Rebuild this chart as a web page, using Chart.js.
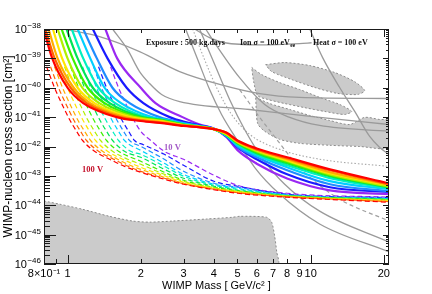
<!DOCTYPE html>
<html><head><meta charset="utf-8">
<script src="https://cdn.jsdelivr.net/npm/chart.js@4.4.0/dist/chart.umd.min.js"></script>
<style>html,body{margin:0;padding:0;background:#fff;}</style>
</head><body>
<canvas id="c" width="432" height="294"></canvas>
<script>
// ---------------- axis ticks ----------------
const X_TICKS = [0.8, 1, 2, 3, 4, 5, 6, 7, 8, 9, 10, 20];
const X_TICK_LABELS = ['8×10⁻¹', '1', '2', '3', '4', '5', '6', '7', '8', '9', '10', '20'];
const X_MAJOR_MARKS = [1, 10, 20];
const X_MINOR_MARKS = [0.9, 2, 3, 4, 5, 6, 7, 8, 9];
const Y_TICKS = [1e-46, 1e-45, 1e-44, 1e-43, 1e-42, 1e-41, 1e-40, 1e-39, 1e-38];
const Y_TICK_EXPONENTS = ['−46', '−45', '−44', '−43', '−42', '−41', '−40', '−39', '−38'];

// ---------------- solid coloured limits (violet = 10 V ... red = 100 V) ----------------
const SOLID_MASS_RED = [0.80, 0.865, 1.00, 1.16, 1.59, 2, 2.5, 3, 3.5, 4, 4.5, 5, 6, 8, 12, 21];
const SOLID_SIG_RED  = [9e-39, 1e-39, 1e-40, 3e-41, 1e-41, 7.4e-42, 6.1e-42, 5.0e-42, 4.5e-42, 3.9e-42, 3.0e-42, 1.6e-42, 8.6e-43, 4.3e-43, 1.67e-43, 5.6e-44];
const SOLID_MASS_ORANGERED = [0.81, 0.885, 1.03, 1.20, 1.65, 2, 2.5, 3, 3.5, 4, 4.5, 5, 6, 8, 12, 21];
const SOLID_SIG_ORANGERED  = [1e-38, 1e-39, 1e-40, 3e-41, 1e-41, 7.7e-42, 6.3e-42, 5.1e-42, 4.55e-42, 3.9e-42, 2.9e-42, 1.55e-42, 8.0e-43, 4.0e-43, 1.55e-43, 5.2e-44];
const SOLID_MASS_ORANGE = [0.835, 0.91, 1.06, 1.24, 1.72, 2, 2.5, 3, 3.5, 4, 4.5, 5, 6, 8, 12, 21];
const SOLID_SIG_ORANGE  = [1e-38, 1e-39, 1e-40, 3e-41, 1e-41, 8.1e-42, 6.6e-42, 5.2e-42, 4.6e-42, 3.9e-42, 2.8e-42, 1.48e-42, 7.7e-43, 3.7e-43, 1.33e-43, 5.0e-44];
const SOLID_MASS_YELLOW = [0.87, 0.95, 1.10, 1.29, 1.80, 2, 2.5, 3, 3.5, 4, 4.5, 5, 6, 8, 12, 21];
const SOLID_SIG_YELLOW  = [1e-38, 1e-39, 1e-40, 3e-41, 1e-41, 8.6e-42, 6.9e-42, 5.3e-42, 4.65e-42, 3.9e-42, 2.7e-42, 1.44e-42, 7.4e-43, 3.4e-43, 1.23e-43, 4.8e-44];
const SOLID_MASS_LIME = [0.91, 1.00, 1.15, 1.35, 1.89, 2.05, 2.5, 3, 3.5, 4, 4.5, 5, 6, 8, 12, 21];
const SOLID_SIG_LIME  = [1e-38, 1e-39, 1e-40, 3e-41, 1e-41, 9.0e-42, 7.2e-42, 5.4e-42, 4.7e-42, 3.9e-42, 2.6e-42, 1.38e-42, 6.9e-43, 3.2e-43, 1.13e-43, 4.4e-44];
const SOLID_MASS_GREEN = [0.945, 1.05, 1.21, 1.42, 1.96, 2.5, 3, 3.5, 4, 4.5, 5, 6, 8, 12, 21];
const SOLID_SIG_GREEN  = [1e-38, 1e-39, 1e-40, 3e-41, 1e-41, 7.5e-42, 5.5e-42, 4.75e-42, 3.9e-42, 2.55e-42, 1.32e-42, 6.4e-43, 2.9e-43, 1.05e-43, 4.3e-44];
const SOLID_MASS_EMERALD = [0.99, 1.10, 1.27, 1.49, 2.03, 2.5, 3, 3.5, 4, 4.5, 5, 6, 8, 12, 21];
const SOLID_SIG_EMERALD  = [1e-38, 1e-39, 1e-40, 3e-41, 1e-41, 7.8e-42, 5.6e-42, 4.8e-42, 3.9e-42, 2.5e-42, 1.28e-42, 5.9e-43, 2.7e-43, 9.7e-44, 4.1e-44];
const SOLID_MASS_SPRING = [1.04, 1.16, 1.34, 1.57, 2.11, 2.5, 3, 3.5, 4, 4.5, 5, 6, 8, 12, 21];
const SOLID_SIG_SPRING  = [1e-38, 1e-39, 1e-40, 3e-41, 1e-41, 8.0e-42, 5.8e-42, 4.85e-42, 3.9e-42, 2.4e-42, 1.18e-42, 5.4e-43, 2.3e-43, 8.4e-44, 3.8e-44];
const SOLID_MASS_CYAN = [1.10, 1.24, 1.42, 1.66, 2.22, 2.5, 3, 3.5, 4, 4.5, 5, 6, 8, 12, 21];
const SOLID_SIG_CYAN  = [1e-38, 1e-39, 1e-40, 3e-41, 1e-41, 8.3e-42, 6.0e-42, 4.9e-42, 3.9e-42, 2.35e-42, 1.1e-42, 5.0e-43, 1.96e-43, 6.6e-44, 3.5e-44];
const SOLID_MASS_AZURE = [1.16, 1.32, 1.53, 1.80, 2.39, 3, 3.5, 4, 4.5, 5, 6, 8, 12, 21];
const SOLID_SIG_AZURE  = [1e-38, 1e-39, 1e-40, 3e-41, 1e-41, 6.3e-42, 5.0e-42, 3.95e-42, 2.3e-42, 1.0e-42, 4.3e-43, 1.55e-43, 5.2e-44, 3.0e-44];
const SOLID_MASS_BLUE = [1.27, 1.46, 1.75, 2.05, 2.63, 3, 3.5, 4, 4.5, 5, 6, 8, 12, 21];
const SOLID_SIG_BLUE  = [1e-38, 1e-39, 1e-40, 3e-41, 1e-41, 7.0e-42, 5.3e-42, 4.0e-42, 2.2e-42, 9.3e-43, 3.7e-43, 1.13e-43, 4.1e-44, 2.8e-44];
const SOLID_MASS_VIOLET = [1.43, 1.60, 2.00, 2.30, 2.97, 3.5, 4, 4.5, 5, 6, 8, 12, 21];
const SOLID_SIG_VIOLET  = [1e-38, 1e-39, 1e-40, 3e-41, 1e-41, 5.6e-42, 4.1e-42, 2.1e-42, 7.5e-43, 2.6e-43, 8.2e-44, 3.2e-44, 2.4e-44];

// ---------------- dashed coloured limits ----------------
const DASH_MASS_RED = [0.820, 0.884, 0.954, 1.019, 1.089, 1.153, 1.291, 1.488, 1.716, 2, 2.5, 3, 4, 5, 8, 21];
const DASH_SIG_RED  = [5.2e-40, 1.0e-40, 2.5e-41, 8.3e-42, 3.3e-42, 1.6e-42, 6.9e-43, 3.7e-43, 2.1e-43, 1.33e-43, 7.67e-44, 5.19e-44, 3.37e-44, 2.56e-44, 1.88e-44, 1.27e-44];
const DASH_MASS_ORANGERED = [0.851, 0.918, 0.991, 1.058, 1.131, 1.197, 1.341, 1.546, 1.783, 2, 2.5, 3, 4, 5, 8, 21];
const DASH_SIG_ORANGERED  = [5.2e-40, 1.0e-40, 2.5e-41, 8.3e-42, 3.3e-42, 1.6e-42, 6.9e-43, 3.7e-43, 2.1e-43, 1.43e-43, 8.3e-44, 5.4e-44, 3.51e-44, 2.67e-44, 1.95e-44, 1.32e-44];
const DASH_MASS_ORANGE = [0.884, 0.954, 1.029, 1.099, 1.175, 1.244, 1.393, 1.606, 1.851, 2, 2.5, 3, 4, 5, 8, 21];
const DASH_SIG_ORANGE  = [5.2e-40, 1.0e-40, 2.5e-41, 8.3e-42, 3.3e-42, 1.6e-42, 6.9e-43, 3.7e-43, 2.1e-43, 1.67e-43, 8.96e-44, 5.61e-44, 3.65e-44, 2.77e-44, 1.95e-44, 1.37e-44];
const DASH_MASS_YELLOW = [0.927, 1.0, 1.079, 1.153, 1.232, 1.304, 1.461, 1.684, 2, 2.5, 3, 4, 5, 8, 21];
const DASH_SIG_YELLOW  = [5.2e-40, 1.0e-40, 2.5e-41, 8.3e-42, 3.3e-42, 1.6e-42, 6.9e-43, 3.7e-43, 1.96e-43, 1.01e-43, 6.07e-44, 3.79e-44, 2.88e-44, 2.03e-44, 1.43e-44];
const DASH_MASS_LIME = [0.972, 1.048, 1.131, 1.208, 1.291, 1.367, 1.532, 1.766, 2, 2.5, 3, 4, 5, 8, 21];
const DASH_SIG_LIME  = [5.2e-40, 1.0e-40, 2.5e-41, 8.3e-42, 3.3e-42, 1.6e-42, 6.9e-43, 3.7e-43, 2.48e-43, 1.13e-43, 6.56e-44, 3.94e-44, 3.0e-44, 2.03e-44, 1.49e-44];
const DASH_MASS_GREEN = [1.029, 1.110, 1.197, 1.279, 1.367, 1.447, 1.621, 2, 2.5, 3, 4, 5, 8, 21];
const DASH_SIG_GREEN  = [5.2e-40, 1.0e-40, 2.5e-41, 8.3e-42, 3.3e-42, 1.6e-42, 6.9e-43, 3.13e-43, 1.33e-43, 7.1e-44, 4.1e-44, 3.12e-44, 2.11e-44, 1.55e-44];
const DASH_MASS_EMERALD = [1.089, 1.175, 1.267, 1.354, 1.447, 1.532, 1.716, 2, 2.5, 3, 4, 5, 8, 21];
const DASH_SIG_EMERALD  = [5.2e-40, 1.0e-40, 2.5e-41, 8.3e-42, 3.3e-42, 1.6e-42, 6.9e-43, 4.28e-43, 1.67e-43, 8.3e-44, 4.44e-44, 3.24e-44, 2.11e-44, 1.61e-44];
const DASH_MASS_SPRING = [1.153, 1.244, 1.341, 1.433, 1.532, 1.621, 1.817, 2, 2.5, 3, 4, 5, 8, 21];
const DASH_SIG_SPRING  = [5.2e-40, 1.0e-40, 2.5e-41, 8.3e-42, 3.3e-42, 1.6e-42, 6.9e-43, 5.41e-43, 2.12e-43, 9.7e-44, 4.8e-44, 3.51e-44, 2.19e-44, 1.61e-44];
const DASH_MASS_CYAN = [1.220, 1.316, 1.420, 1.517, 1.621, 1.716, 2, 2.5, 3, 4, 5, 8, 21];
const DASH_SIG_CYAN  = [5.2e-40, 1.0e-40, 2.5e-41, 8.3e-42, 3.3e-42, 1.6e-42, 7.4e-43, 2.68e-43, 1.13e-43, 5.19e-44, 3.79e-44, 2.19e-44, 1.67e-44];
const DASH_MASS_AZURE = [1.279, 1.380, 1.488, 1.591, 1.700, 1.800, 2, 2.5, 3, 4, 5, 8, 21];
const DASH_SIG_AZURE  = [5.2e-40, 1.0e-40, 2.5e-41, 8.3e-42, 3.3e-42, 1.6e-42, 1.01e-42, 3.66e-43, 1.43e-43, 5.61e-44, 4.1e-44, 2.28e-44, 1.74e-44];
const DASH_MASS_BLUE = [1.341, 1.447, 1.561, 1.668, 1.783, 1.886, 2.05, 2.5, 3, 4, 5, 8, 21];
const DASH_SIG_BLUE  = [5.2e-40, 1.0e-40, 2.5e-41, 8.3e-42, 3.3e-42, 1.6e-42, 1.15e-42, 5.41e-43, 2.29e-43, 6.56e-44, 4.44e-44, 2.37e-44, 1.81e-44];
const DASH_MASS_VIOLET = [1.503, 1.621, 1.749, 1.868, 2, 2.2, 2.5, 3, 4, 5, 8, 21];
const DASH_SIG_VIOLET  = [5.2e-40, 1.0e-40, 2.5e-41, 8.3e-42, 3.3e-42, 1.6e-42, 6.84e-43, 3.66e-43, 1.05e-43, 4.8e-44, 2.56e-44, 1.88e-44];

// ---------------- other experiments (grey) ----------------
const GREY_A_MASS = [0.972, 1.354, 1.978, 2.891, 4.222, 6.17, 9.01, 21];
const GREY_A_SIG  = [1e-38, 5.5e-39, 1.7e-39, 3.55e-40, 1.3e-40, 6.3e-41, 4.7e-41, 4.3e-41];
const GREY_B_MASS = [1.532, 1.766, 1.978, 2.175, 2.437, 2.891, 5.61, 10.89, 21];
const GREY_B_SIG  = [1e-38, 1.98e-39, 3.55e-40, 1.39e-40, 5.9e-41, 3.4e-41, 1.82e-41, 9.8e-42, 5.6e-42];
const GREY_C_MASS = [3.06, 3.43, 3.84, 4.30, 4.96, 5.88, 7.45, 10.89, 21];
const GREY_C_SIG  = [1e-38, 9.1e-40, 8.7e-41, 1.23e-41, 1.75e-42, 1.96e-43, 2.4e-44, 2.3e-45, 2.6e-46];
const GREY_D_MASS = [3.49, 4.03, 4.64, 5.35, 6.29, 7.82, 10.89, 21];
const GREY_D_SIG  = [1e-38, 6.2e-40, 4.0e-41, 3.8e-42, 4.3e-43, 5.2e-44, 6.3e-45, 5.6e-46];
const GREY_E_MASS = [3.70, 3.95, 5.10, 6.47, 8.20, 10.89, 21];
const GREY_E_SIG  = [1e-38, 4.3e-39, 2.2e-40, 2.7e-41, 9.8e-42, 5.2e-42, 3.3e-42];
const GREY_F_MASS = [3.33, 3.84, 4.43, 6.17, 9.01, 10.09];
const GREY_F_SIG  = [1e-38, 5.1e-39, 3.4e-39, 2.9e-39, 3.2e-39, 3.4e-39];
const GREY_G_MASS = [9.91, 11.2, 13.16, 15.18, 17.49, 19.23, 21];
const GREY_G_SIG  = [1e-38, 1.06e-39, 1.02e-40, 1.56e-41, 2.2e-42, 9.3e-43, 5.4e-43];
const GREY_DOT_MASS = [3.27, 3.66, 4.14, 4.73, 5.61, 7.45, 10.89, 21];
const GREY_DOT_SIG  = [1e-38, 9.1e-40, 8.7e-41, 1.23e-41, 2.6e-42, 8.0e-43, 3.7e-43, 2.1e-43];
const GREY_DASH_MASS = [5.10, 6.17, 7.25, 8.60, 9.91, 13.16, 21];
const GREY_DASH_SIG  = [8.7e-41, 9.8e-42, 1.75e-42, 2.9e-43, 9.0e-44, 1.6e-44, 2.9e-45];

// grey allowed regions (closed contours)
const REGION_LOW_MASS = [0.8, 0.927, 1.153, 1.488, 1.851, 2.175, 2.705, 3.73, 4.77, 5.10, 6.59, 6.91, 7.11, 7.25, 7.32, 0.8];
const REGION_LOW_SIG  = [1.4e-44, 1.09e-44, 7.3e-45, 4.2e-45, 2.9e-45, 2.66e-45, 2.9e-45, 3.4e-45, 3.9e-45, 4.2e-45, 3.9e-45, 2.66e-45, 8.9e-46, 2.6e-46, 1e-46, 1e-46];
const REGION_TOP_MASS = [6.53, 7.82, 9.91, 12.56, 15.18, 16.68, 15.61, 12.92, 10.39, 8.35, 6.91];
const REGION_TOP_SIG  = [6.1e-40, 7.2e-40, 5.7e-40, 3.3e-40, 1.6e-40, 8.0e-41, 5.9e-41, 6.4e-41, 1.02e-40, 1.9e-40, 3.55e-40];
const REGION_MID_MASS = [5.72, 6.29, 7.45, 9.01, 10.89, 13.16, 14.75, 13.8, 11.42, 9.45, 7.82, 6.65, 6.05, 5.83];
const REGION_MID_SIG  = [4.9e-40, 2.8e-40, 1.5e-40, 8.7e-41, 4.7e-41, 2.7e-41, 1.56e-41, 1.23e-41, 1.56e-41, 2.1e-41, 2.9e-41, 4.0e-41, 5.4e-41, 1.6e-40];
const REGION_BOT_MASS = [5.94, 6.78, 8.20, 9.91, 11.97, 14.47, 16.68, 19.23, 21, 21, 15.91, 11.97, 9.01, 7.45, 6.47, 6.05];
const REGION_BOT_SIG  = [4.7e-41, 2.9e-41, 1.82e-41, 1.14e-41, 7.7e-42, 5.6e-42, 9.8e-42, 8.3e-42, 7.7e-42, 9.3e-43, 1.0e-42, 1.1e-42, 1.28e-42, 1.75e-42, 3.3e-42, 6.1e-42];

// ---------------- build datasets ----------------
const pts = (ms, ss) => ms.map((m, i) => ({ x: m, y: ss[i] }));
const COLORS = {
  red: '#ff0000', orangered: '#ff6200', orange: '#ffae00', yellow: '#ffe600', lime: '#b0f000',
  green: '#3cf000', emerald: '#00e455', spring: '#00f0c0', cyan: '#00cfff', azure: '#1f8cff',
  blue: '#1a1aff', violet: '#9a28f2'
};
const solids = [
  ['red', SOLID_MASS_RED, SOLID_SIG_RED], ['orangered', SOLID_MASS_ORANGERED, SOLID_SIG_ORANGERED],
  ['orange', SOLID_MASS_ORANGE, SOLID_SIG_ORANGE], ['yellow', SOLID_MASS_YELLOW, SOLID_SIG_YELLOW],
  ['lime', SOLID_MASS_LIME, SOLID_SIG_LIME], ['green', SOLID_MASS_GREEN, SOLID_SIG_GREEN],
  ['emerald', SOLID_MASS_EMERALD, SOLID_SIG_EMERALD], ['spring', SOLID_MASS_SPRING, SOLID_SIG_SPRING],
  ['cyan', SOLID_MASS_CYAN, SOLID_SIG_CYAN], ['azure', SOLID_MASS_AZURE, SOLID_SIG_AZURE],
  ['blue', SOLID_MASS_BLUE, SOLID_SIG_BLUE], ['violet', SOLID_MASS_VIOLET, SOLID_SIG_VIOLET]
];
const dashes = [
  ['red', DASH_MASS_RED, DASH_SIG_RED], ['orangered', DASH_MASS_ORANGERED, DASH_SIG_ORANGERED],
  ['orange', DASH_MASS_ORANGE, DASH_SIG_ORANGE], ['yellow', DASH_MASS_YELLOW, DASH_SIG_YELLOW],
  ['lime', DASH_MASS_LIME, DASH_SIG_LIME], ['green', DASH_MASS_GREEN, DASH_SIG_GREEN],
  ['emerald', DASH_MASS_EMERALD, DASH_SIG_EMERALD], ['spring', DASH_MASS_SPRING, DASH_SIG_SPRING],
  ['cyan', DASH_MASS_CYAN, DASH_SIG_CYAN], ['azure', DASH_MASS_AZURE, DASH_SIG_AZURE],
  ['blue', DASH_MASS_BLUE, DASH_SIG_BLUE], ['violet', DASH_MASS_VIOLET, DASH_SIG_VIOLET]
];
const datasets = [];
solids.forEach(([c, m, s], i) => datasets.push({
  data: pts(m, s), borderColor: COLORS[c], borderWidth: 2.2, showLine: true, fill: false,
  cubicInterpolationMode: 'monotone', pointRadius: 0, order: i
}));
dashes.forEach(([c, m, s], i) => datasets.push({
  data: pts(m, s), borderColor: COLORS[c], borderWidth: 1.2, borderDash: [5, 3], showLine: true, fill: false,
  cubicInterpolationMode: 'monotone', pointRadius: 0, order: 20 + i
}));
const GREY_LINE = '#9a9a9a';
[[GREY_A_MASS, GREY_A_SIG], [GREY_B_MASS, GREY_B_SIG], [GREY_C_MASS, GREY_C_SIG], [GREY_D_MASS, GREY_D_SIG],
 [GREY_E_MASS, GREY_E_SIG], [GREY_F_MASS, GREY_F_SIG], [GREY_G_MASS, GREY_G_SIG]].forEach(([m, s], i) => datasets.push({
  data: pts(m, s), borderColor: GREY_LINE, borderWidth: 1.3, showLine: true, fill: false,
  cubicInterpolationMode: 'monotone', pointRadius: 0, order: 40 + i
}));
datasets.push({ data: pts(GREY_DOT_MASS, GREY_DOT_SIG), borderColor: '#a8a8a8', borderWidth: 1.1, borderDash: [1.5, 2],
  showLine: true, fill: false, cubicInterpolationMode: 'monotone', pointRadius: 0, order: 50 });
datasets.push({ data: pts(GREY_DASH_MASS, GREY_DASH_SIG), borderColor: '#a0a0a0', borderWidth: 1.2, borderDash: [4, 3],
  showLine: true, fill: false, cubicInterpolationMode: 'monotone', pointRadius: 0, order: 51 });
[[REGION_LOW_MASS, REGION_LOW_SIG], [REGION_TOP_MASS, REGION_TOP_SIG], [REGION_MID_MASS, REGION_MID_SIG],
 [REGION_BOT_MASS, REGION_BOT_SIG]].forEach(([m, s], i) => datasets.push({
  data: pts(m.concat([m[0]]), s.concat([s[0]])), borderColor: '#8c8c8c', borderWidth: 1, borderDash: [2, 2],
  backgroundColor: '#cbcbcb', showLine: true, fill: 'shape', tension: 0.25, pointRadius: 0, order: 60 + i
}));

// ---------------- frame, inward ticks, y tick labels and annotations ----------------
const SANS = '"Liberation Sans", Arial, sans-serif';
const SERIF = '"Liberation Serif", "Times New Roman", serif';
const decorations = {
  id: 'decorations',
  afterDraw(chart) {
    const { ctx, chartArea: a, scales: { x, y } } = chart;
    ctx.save();
    ctx.strokeStyle = '#1a1a1a'; ctx.lineWidth = 1;
    const seg = (x1, y1, x2, y2) => { ctx.beginPath(); ctx.moveTo(x1, y1); ctx.lineTo(x2, y2); ctx.stroke(); };
    ctx.strokeRect(a.left + 0.5, a.top + 0.5, a.right - a.left - 1, a.bottom - a.top - 1);
    for (let e = -46; e <= -38; e++) {
      for (let k = 1; k <= 9; k++) {
        const v = k * Math.pow(10, e);
        if (v > 1.0001e-38) break;
        const py = Math.round(y.getPixelForValue(v)) + 0.5;
        const major = k === 1;
        seg(a.left, py, a.left + (major ? 12 : 6), py);
        seg(a.right, py, a.right - (major ? 6 : 3), py);
      }
    }
    X_MAJOR_MARKS.concat(X_MINOR_MARKS).forEach(v => {
      const px = Math.round(x.getPixelForValue(v)) + 0.5;
      const major = X_MAJOR_MARKS.includes(v);
      seg(px, a.bottom, px, a.bottom - (major ? 9 : 5));
      seg(px, a.top, px, a.top + (major ? 8 : 4));
    });
    // y tick labels: "10" with raised exponent
    ctx.fillStyle = '#000';
    ctx.textBaseline = 'alphabetic';
    Y_TICKS.forEach((v, i) => {
      const py = y.getPixelForValue(v);
      ctx.font = '8px ' + SANS;
      const ew = ctx.measureText(Y_TICK_EXPONENTS[i]).width;
      const ex = a.left - 3 - ew;
      ctx.fillText(Y_TICK_EXPONENTS[i], ex, py - 1);
      ctx.font = '11px ' + SANS;
      const bw = ctx.measureText('10').width;
      ctx.fillText('10', ex - bw - 0.5, py + 4);
    });
    // annotations
    ctx.fillStyle = '#111';
    ctx.font = 'bold 8px ' + SERIF;
    ctx.fillText('Exposure : 500 kg.days', 146, 45);
    ctx.fillText('Ion σ = 100 eV', 240, 45);
    const w = ctx.measureText('Ion σ = 100 eV').width;
    ctx.font = 'bold 5.5px ' + SERIF;
    ctx.fillText('ee', 240 + w + 0.5, 47);
    ctx.font = 'bold 8px ' + SERIF;
    ctx.fillText('Heat σ = 100 eV', 313, 45);
    ctx.font = 'bold 8.5px ' + SERIF;
    ctx.fillStyle = '#a45cc8';
    ctx.fillText('10 V', 164, 150);
    ctx.fillStyle = '#c4122c';
    ctx.fillText('100 V', 82, 172);
    ctx.restore();
  }
};

new Chart(document.getElementById('c'), {
  type: 'scatter',
  data: { datasets },
  options: {
    responsive: false, animation: false,
    layout: { padding: { left: 0, right: 43, top: 29, bottom: 0 } },
    plugins: { legend: { display: false }, tooltip: { enabled: false } },
    scales: {
      x: {
        type: 'logarithmic', min: 0.8, max: 21,
        grid: { display: false, drawTicks: false }, border: { display: false },
        afterBuildTicks: s => { s.ticks = X_TICKS.map(v => ({ value: v })); },
        afterFit: s => { s.height = 30; },
        ticks: { autoSkip: false, maxRotation: 0, padding: 3, color: '#000', font: { family: SANS, size: 11 },
          callback: (v, i) => X_TICK_LABELS[i] },
        title: { display: true, text: 'WIMP Mass [ GeV/c² ]', color: '#000', font: { family: SANS, size: 11 }, padding: { top: 0, bottom: 1 } }
      },
      y: {
        type: 'logarithmic', min: 1e-46, max: 1e-38,
        grid: { display: false, drawTicks: false }, border: { display: false },
        afterBuildTicks: s => { s.ticks = Y_TICKS.map(v => ({ value: v })); },
        afterFit: s => { s.width = 44; },
        ticks: { display: false },
        title: { display: true, text: 'WIMP-nucleon cross section [cm²]', color: '#000', font: { family: SANS, size: 12 }, padding: { top: 1, bottom: 0 } }
      }
    }
  },
  plugins: [decorations]
});
</script>
</body></html>
